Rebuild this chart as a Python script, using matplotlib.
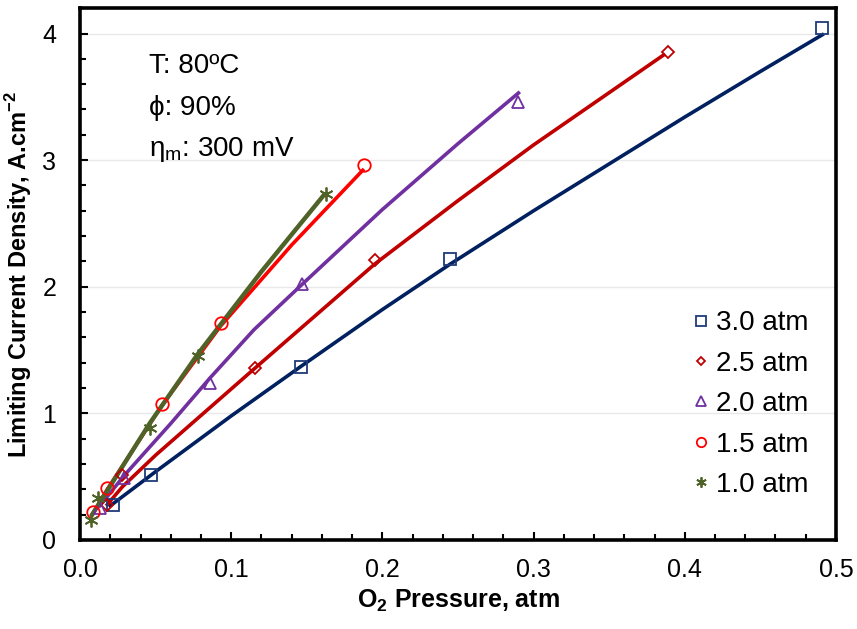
import matplotlib
matplotlib.use("Agg")
import matplotlib.pyplot as plt
from matplotlib.ticker import MultipleLocator, FormatStrFormatter

plt.rcParams['font.family'] = ['Liberation Sans', 'DejaVu Sans']
plt.rcParams['mathtext.fontset'] = 'custom'
plt.rcParams['mathtext.rm'] = 'Liberation Sans'
plt.rcParams['mathtext.bf'] = 'Liberation Sans:bold'

labels = ["3.0 atm", "2.5 atm", "2.0 atm", "1.5 atm", "1.0 atm"]

# measured points
p30_x = [0.022, 0.047, 0.146, 0.245, 0.491]
p30_y = [0.28, 0.51, 1.37, 2.22, 4.04]
p25_x = [0.018, 0.028, 0.116, 0.195, 0.389]
p25_y = [0.28, 0.51, 1.36, 2.21, 3.85]
p20_x = [0.013, 0.029, 0.086, 0.147, 0.290]
p20_y = [0.25, 0.49, 1.24, 2.02, 3.46]
p15_x = [0.0086, 0.018, 0.054, 0.093, 0.188]
p15_y = [0.22, 0.41, 1.075, 1.71, 2.96]
p10_x = [0.0075, 0.012, 0.046, 0.078, 0.163]
p10_y = [0.16, 0.33, 0.885, 1.45, 2.73]

# model curves
m30_x = [0.020, 0.05, 0.10, 0.146, 0.20, 0.245, 0.30, 0.35, 0.40, 0.45, 0.491]
m30_y = [0.27, 0.54, 0.98, 1.37, 1.82, 2.18, 2.60, 2.97, 3.34, 3.70, 3.99]
m25_x = [0.018, 0.028, 0.05, 0.116, 0.195, 0.25, 0.30, 0.386]
m25_y = [0.28, 0.42, 0.67, 1.36, 2.18, 2.68, 3.12, 3.83]
m20_x = [0.013, 0.03, 0.06, 0.086, 0.115, 0.147, 0.20, 0.25, 0.290]
m20_y = [0.27, 0.52, 0.92, 1.28, 1.66, 2.02, 2.61, 3.13, 3.53]
m15_x = [0.009, 0.018, 0.054, 0.093, 0.14, 0.187]
m15_y = [0.22, 0.40, 1.06, 1.69, 2.33, 2.92]
m10_x = [0.008, 0.046, 0.078, 0.12, 0.161]
m10_y = [0.20, 0.92, 1.47, 2.12, 2.72]

pts_x = [p30_x, p25_x, p20_x, p15_x, p10_x]
pts_y = [p30_y, p25_y, p20_y, p15_y, p10_y]
mod_x = [m30_x, m25_x, m20_x, m15_x, m10_x]
mod_y = [m30_y, m25_y, m20_y, m15_y, m10_y]

line_colors = ["#002060", "#C00000", "#7030A0", "#FF0000", "#4F6228"]
mk_colors = ["#1F3A78", "#C00000", "#7030A0", "#FF0000", "#4F6228"]
markers = ["s", "D", "^", "o", (6, 2, 0)]
msizes = [9, 6, 9, 9, 10]
lws = [2.6, 2.6, 2.6, 2.6, 3.2]

fig = plt.figure(figsize=(8.57, 6.29), dpi=100)
ax = fig.add_axes([0.0934, 0.1415, 0.882, 0.8455])

for i in range(5):
    ax.plot(mod_x[i], mod_y[i], color=line_colors[i], lw=lws[i], zorder=2,
            solid_joinstyle="round")
    ax.plot(pts_x[i], pts_y[i], linestyle="none", marker=markers[i], ms=msizes[i],
            mfc="none", mec=mk_colors[i], mew=1.3, label=labels[i], zorder=3)

ax.set_xlim(0, 0.5)
ax.set_ylim(0, 4.2)
ax.xaxis.set_major_locator(MultipleLocator(0.1))
ax.xaxis.set_minor_locator(MultipleLocator(0.02))
ax.yaxis.set_major_locator(MultipleLocator(1))
ax.yaxis.set_minor_locator(MultipleLocator(0.2))
ax.xaxis.set_major_formatter(FormatStrFormatter("%.1f"))
ax.yaxis.set_major_formatter(FormatStrFormatter("%d"))
ax.tick_params(which="both", direction="in", labelsize=18, width=1.5, top=False, right=False)
ax.tick_params(which="major", length=6)
ax.tick_params(which="minor", length=4)
ax.tick_params(axis="y", which="major", pad=17)
ax.tick_params(axis="x", which="major", pad=13)
ax.grid(axis="y", which="major", color="#E8E8E8", lw=1, zorder=0)
ax.set_axisbelow(True)
for s in ax.spines.values():
    s.set_linewidth(2.6)
    s.set_color("black")

ax.set_xlabel("O$_\\mathbf{2}$ Pressure, atm", fontsize=18, fontweight="bold", labelpad=4)
ax.set_ylabel("Limiting Current Density, A.cm$^\\mathbf{-2}$", fontsize=17, fontweight="bold", labelpad=6)

ax.text(0.0456, 3.69, "T: 80ºC", fontsize=20, va="baseline")
ax.text(0.0456, 3.36, "ϕ: 90%", fontsize=20, va="baseline")
ax.text(0.0456, 3.03, "η$_\\mathregular{m}$: 300 mV", fontsize=20, va="baseline")

leg = ax.legend(loc="upper left", bbox_to_anchor=(0.803, 0.432), frameon=False, fontsize=20,
                handletextpad=0.05, labelspacing=0.52, handlelength=1.0, markerscale=0.75,
                borderpad=0, borderaxespad=0)

fig.savefig("out.png", dpi=100)
